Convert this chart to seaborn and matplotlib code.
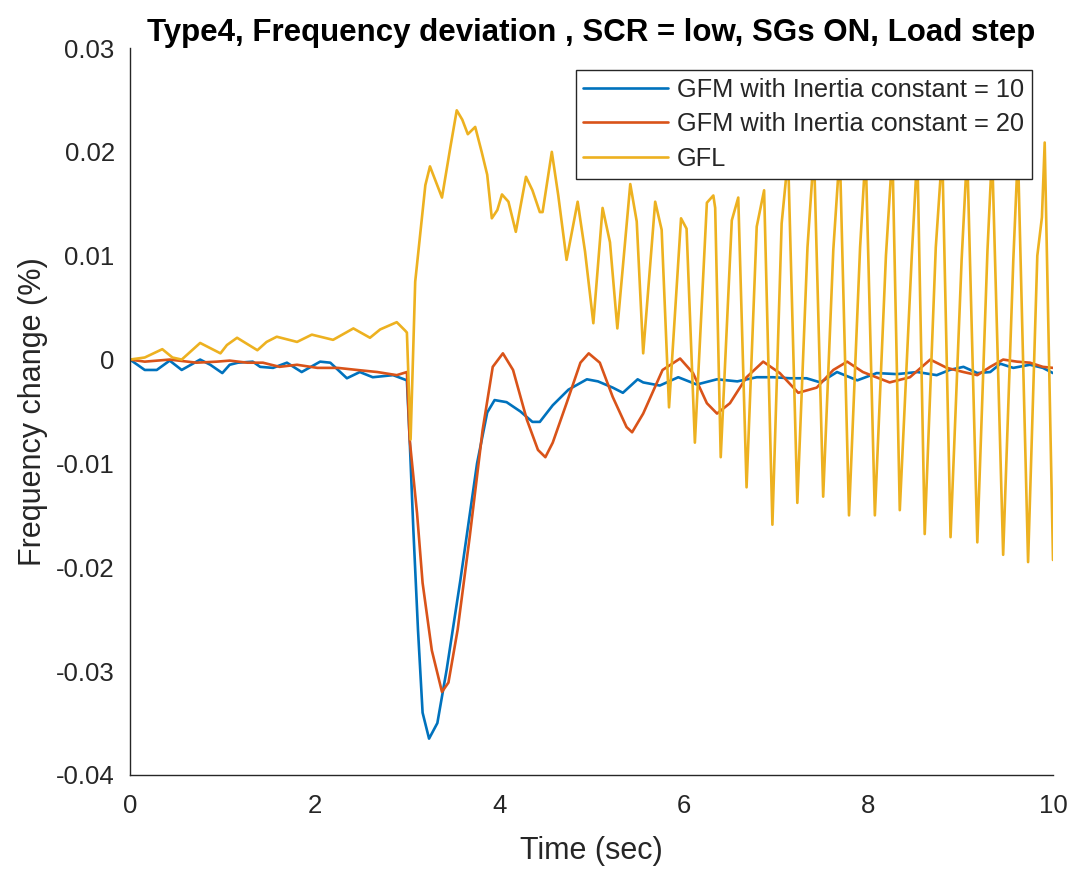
import numpy as np
import pandas as pd
import matplotlib
matplotlib.use("Agg")
import matplotlib.pyplot as plt
import seaborn as sns

# GFM with inertia constant H = 10
t_h10 = [0.00, 0.16, 0.29, 0.43, 0.56, 0.76, 0.87, 1.00, 1.08, 1.17, 1.33, 1.41,
         1.55, 1.70, 1.86, 2.06, 2.17, 2.35, 2.49, 2.63, 2.85, 3.00,
         3.03, 3.07, 3.12, 3.17, 3.24, 3.33, 3.43, 3.58, 3.76, 3.87, 3.95,
         4.08, 4.23, 4.36, 4.44, 4.58, 4.75, 4.95, 5.07, 5.23, 5.34, 5.50,
         5.56, 5.74, 5.94, 6.14, 6.36, 6.58, 6.79, 6.97, 7.15, 7.33, 7.48,
         7.66, 7.88, 8.09, 8.31, 8.53, 8.74, 8.88, 9.03, 9.18, 9.32, 9.43,
         9.57, 9.75, 9.89, 10.00]
f_h10 = [0.0000, -0.0010, -0.0010, -0.0001, -0.0010, 0.0000, -0.0005, -0.0013,
         -0.0005, -0.0003, -0.0002, -0.0007, -0.0008, -0.0003, -0.0012, -0.0002,
         -0.0003, -0.0018, -0.0012, -0.0017, -0.0015, -0.0020,
         -0.0077, -0.0164, -0.0260, -0.0340, -0.0365, -0.0350, -0.0299, -0.0212,
         -0.0100, -0.0051, -0.0039, -0.0041, -0.0050, -0.0060, -0.0060, -0.0044,
         -0.0029, -0.0019, -0.0021, -0.0027, -0.0032, -0.0019,
         -0.0022, -0.0025, -0.0017, -0.0024, -0.0019, -0.0021, -0.0017, -0.0017,
         -0.0018, -0.0018, -0.0022, -0.0012, -0.0020, -0.0013, -0.0014, -0.0012,
         -0.0015, -0.0010, -0.0007, -0.0013, -0.0012, -0.0004, -0.0008, -0.0005,
         -0.0008, -0.0013]

# GFM with inertia constant H = 20
t_h20 = [0.00, 0.16, 0.43, 0.72, 0.94, 1.08, 1.27, 1.44, 1.62, 1.81, 2.03,
         2.25, 2.46, 2.68, 2.89, 3.00,
         3.03, 3.11, 3.17, 3.27, 3.38, 3.45, 3.55, 3.68, 3.82, 3.93, 4.04,
         4.15, 4.30, 4.42, 4.50, 4.58, 4.73, 4.88, 4.97, 5.09, 5.23, 5.38,
         5.44, 5.56, 5.77, 5.96, 6.10, 6.25, 6.36, 6.50, 6.68, 6.86, 7.04,
         7.24, 7.44, 7.62, 7.77, 7.94, 8.23, 8.45, 8.67, 8.85, 9.03, 9.18,
         9.32, 9.46, 9.61, 9.75, 9.89, 10.00]
f_h20 = [0.0000, -0.0002, 0.0000, -0.0003, -0.0002, -0.0001, -0.0003, -0.0003,
         -0.0007, -0.0005, -0.0008, -0.0008, -0.0010, -0.0012, -0.0015, -0.0012,
         -0.0077, -0.0148, -0.0215, -0.0280, -0.0320, -0.0311, -0.0260, -0.0171,
         -0.0068, -0.0007, 0.0006, -0.0010, -0.0058, -0.0087, -0.0094, -0.0080,
         -0.0042, -0.0003, 0.0006, -0.0003, -0.0036, -0.0065, -0.0070, -0.0052,
         -0.0010, 0.0001, -0.0013, -0.0042, -0.0052, -0.0042, -0.0017, -0.0002,
         -0.0013, -0.0032, -0.0027, -0.0010, -0.0002, -0.0012, -0.0022, -0.0017,
         0.0000, -0.0008, -0.0012, -0.0015, -0.0007, 0.0000, -0.0002, -0.0003,
         -0.0007, -0.0008]

# Grid-following converter
t_gfl = [0.00, 0.16, 0.35, 0.46, 0.56, 0.76, 0.98, 1.05, 1.16, 1.38, 1.48,
         1.59, 1.81, 1.97, 2.20, 2.42, 2.60, 2.71, 2.89, 2.98, 3.00,
         3.04, 3.09, 3.20, 3.25, 3.38, 3.47, 3.54, 3.60, 3.66, 3.74, 3.81,
         3.87, 3.92, 3.98, 4.03, 4.10, 4.18, 4.29, 4.36, 4.44, 4.47, 4.57,
         4.64, 4.73, 4.85, 4.93, 5.02, 5.12, 5.20, 5.28, 5.42, 5.49, 5.56,
         5.69, 5.76, 5.84, 5.97, 6.03, 6.12, 6.25, 6.32, 6.34, 6.40, 6.52,
         6.59, 6.68, 6.79, 6.87, 6.96, 7.06, 7.13, 7.23, 7.34, 7.41, 7.51,
         7.62, 7.69, 7.79, 7.91, 7.97, 8.07, 8.19, 8.26, 8.34, 8.47, 8.53,
         8.61, 8.73, 8.80, 8.89, 9.01, 9.07, 9.18, 9.29, 9.34, 9.46, 9.57,
         9.62, 9.73, 9.83, 9.88, 9.91, 10.00]
f_gfl = [0.0000, 0.0002, 0.0010, 0.0002, 0.0000, 0.0016, 0.0006, 0.0014,
         0.0021, 0.0009, 0.0017, 0.0022, 0.0017, 0.0024, 0.0019, 0.0030,
         0.0021, 0.0029, 0.0036, 0.0028, 0.0026,
         -0.0077, 0.0075, 0.0168, 0.0186, 0.0156, 0.0204, 0.0240, 0.0231,
         0.0217, 0.0224, 0.0200, 0.0178, 0.0136, 0.0144, 0.0159, 0.0152,
         0.0123, 0.0176, 0.0163, 0.0142, 0.0142, 0.0200, 0.0158, 0.0096,
         0.0152, 0.0104, 0.0035, 0.0146, 0.0113, 0.0030, 0.0169, 0.0133,
         0.0006, 0.0152, 0.0125, -0.0046, 0.0136, 0.0126, -0.0080, 0.0151,
         0.0158, 0.0146, -0.0094, 0.0134, 0.0156, -0.0123, 0.0128, 0.0163,
         -0.0159, 0.0131, 0.0195, -0.0138, 0.0108, 0.0200, -0.0132, 0.0106,
         0.0200, -0.0150, 0.0108, 0.0200, -0.0150, 0.0100, 0.0200, -0.0145,
         0.0100, 0.0200, -0.0168, 0.0108, 0.0200, -0.0171, 0.0096, 0.0200,
         -0.0176, 0.0105, 0.0200, -0.0188, 0.0096, 0.0200, -0.0195, 0.0100,
         0.0137, 0.0209, -0.0193]

labels = ["GFM with Inertia constant = 10",
          "GFM with Inertia constant = 20",
          "GFL"]
colors = ["#0072BD", "#D95319", "#EDB120"]

x_ticks = [0, 2, 4, 6, 8, 10]
y_ticks = [-0.04, -0.03, -0.02, -0.01, 0.0, 0.01, 0.02, 0.03]
y_tick_labels = ["-0.04", "-0.03", "-0.02", "-0.01", "0", "0.01", "0.02", "0.03"]

sns.set_style("white")
plt.rcParams["font.family"] = ["Liberation Sans", "DejaVu Sans"]

fig = plt.figure(figsize=(10.75, 8.69), dpi=100)
ax = fig.add_axes([130 / 1075, 1 - 775 / 869, 923 / 1075, 727 / 869])

for t, f, lab, col in zip([t_h10, t_h20, t_gfl], [f_h10, f_h20, f_gfl], labels, colors):
    df = pd.DataFrame({"t": t, "f": f})
    sns.lineplot(data=df, x="t", y="f", ax=ax, color=col, linewidth=1.9,
                 label=lab, sort=False, estimator=None)

ax.set_xlim(0, 10)
ax.set_ylim(-0.04, 0.03)
ax.set_xticks(x_ticks)
ax.set_xticklabels([str(v) for v in x_ticks])
ax.set_yticks(y_ticks)
ax.set_yticklabels(y_tick_labels)

dark = "#262626"
for side in ["top", "right"]:
    ax.spines[side].set_visible(False)
for side in ["left", "bottom"]:
    ax.spines[side].set_color(dark)
    ax.spines[side].set_linewidth(1.0)
ax.tick_params(direction="in", length=7, width=1.0, colors=dark, labelsize=18.5)
ax.tick_params(axis="x", pad=14)
ax.tick_params(axis="y", pad=11)

ax.set_xlabel("Time (sec)", fontsize=22, color=dark, labelpad=13)
ax.set_ylabel("Frequency change (%)", fontsize=22, color=dark, labelpad=6)
ax.set_title("Type4, Frequency deviation , SCR = low, SGs ON, Load step",
             fontsize=22.5, fontweight="bold", color="black", pad=5)

leg = ax.legend(loc="upper right", bbox_to_anchor=(0.9772, 0.9697),
                borderaxespad=0, fontsize=18.3, frameon=True, fancybox=False,
                framealpha=1.0, edgecolor=dark, handlelength=3.35,
                handletextpad=0.35, labelspacing=0.42, borderpad=0.3)
leg.get_frame().set_linewidth(1.0)
for txt in leg.get_texts():
    txt.set_color(dark)

fig.savefig("out.png", dpi=100, facecolor="white")
